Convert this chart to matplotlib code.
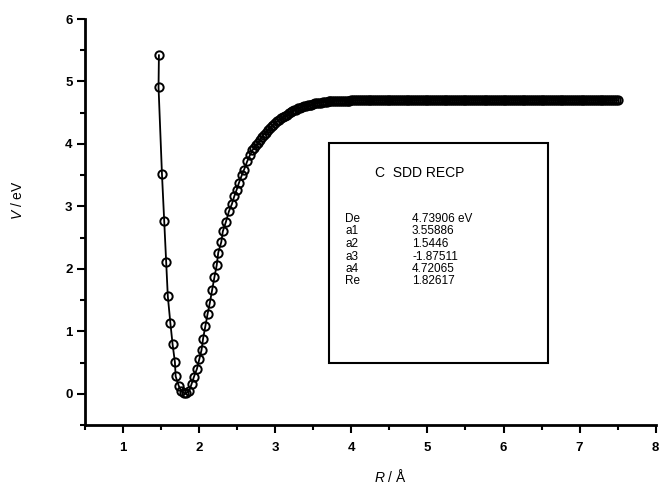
import matplotlib
matplotlib.use("Agg")
import matplotlib.pyplot as plt
from matplotlib.patches import Rectangle
from matplotlib.ticker import MultipleLocator

plt.rcParams['font.family'] = ['Liberation Sans', 'DejaVu Sans']
plt.rcParams['mathtext.fontset'] = 'custom'
plt.rcParams['mathtext.it'] = 'Liberation Sans:italic'

# potential curve points (R in Angstrom, V in eV)
# repulsive wall, well and lower part of the rise
r_well = [1.47, 1.465, 1.51, 1.54, 1.565, 1.587, 1.62, 1.65, 1.68, 1.69,
          1.73, 1.76, 1.80, 1.83, 1.87, 1.90, 1.93, 1.97, 2.00, 2.03,
          2.05, 2.08, 2.11, 2.14, 2.17, 2.20, 2.23, 2.25, 2.29, 2.31,
          2.35, 2.39, 2.43, 2.46, 2.49, 2.52, 2.56, 2.59, 2.63, 2.67]
v_well = [5.42, 4.91, 3.52, 2.76, 2.11, 1.56, 1.14, 0.79, 0.51, 0.28,
          0.13, 0.05, 0.01, 0.01, 0.05, 0.16, 0.27, 0.40, 0.55, 0.70,
          0.88, 1.08, 1.28, 1.46, 1.67, 1.87, 2.06, 2.26, 2.43, 2.60,
          2.75, 2.92, 3.04, 3.16, 3.26, 3.37, 3.50, 3.59, 3.72, 3.83]

# upper bend (dense points)
r_bend = [2.700, 2.725, 2.750, 2.775, 2.800, 2.825, 2.850, 2.875, 2.900,
          2.925, 2.950, 2.975, 3.000, 3.025, 3.050, 3.075, 3.100, 3.125,
          3.150, 3.175, 3.200, 3.225, 3.250, 3.275, 3.300, 3.325, 3.350,
          3.375, 3.400, 3.425, 3.450, 3.475, 3.500, 3.525, 3.550, 3.575,
          3.600, 3.625, 3.650, 3.675, 3.700, 3.725, 3.750, 3.775, 3.800]
v_bend = [3.90, 3.94, 3.98, 4.02, 4.07, 4.11, 4.15, 4.18, 4.22,
          4.25, 4.28, 4.31, 4.34, 4.36, 4.39, 4.41, 4.43, 4.45,
          4.47, 4.49, 4.51, 4.52, 4.54, 4.55, 4.57, 4.58, 4.59,
          4.60, 4.61, 4.62, 4.63, 4.63, 4.64, 4.65, 4.65, 4.66,
          4.66, 4.67, 4.67, 4.67, 4.68, 4.68, 4.68, 4.69, 4.69]

# dissociation plateau (dense points)
r_flat = [3.825, 3.850, 3.875, 3.900, 3.925, 3.950, 3.975, 4.000,
          4.025, 4.050, 4.075, 4.100, 4.125, 4.150, 4.175, 4.200,
          4.225, 4.250, 4.275, 4.300, 4.325, 4.350, 4.375, 4.400,
          4.425, 4.450, 4.475, 4.500, 4.525, 4.550, 4.575, 4.600,
          4.625, 4.650, 4.675, 4.700, 4.725, 4.750, 4.775, 4.800,
          4.825, 4.850, 4.875, 4.900, 4.925, 4.950, 4.975, 5.000,
          5.025, 5.050, 5.075, 5.100, 5.125, 5.150, 5.175, 5.200,
          5.225, 5.250, 5.275, 5.300, 5.325, 5.350, 5.375, 5.400,
          5.425, 5.450, 5.475, 5.500, 5.525, 5.550, 5.575, 5.600,
          5.625, 5.650, 5.675, 5.700, 5.725, 5.750, 5.775, 5.800,
          5.825, 5.850, 5.875, 5.900, 5.925, 5.950, 5.975, 6.000,
          6.025, 6.050, 6.075, 6.100, 6.125, 6.150, 6.175, 6.200,
          6.225, 6.250, 6.275, 6.300, 6.325, 6.350, 6.375, 6.400,
          6.425, 6.450, 6.475, 6.500, 6.525, 6.550, 6.575, 6.600,
          6.625, 6.650, 6.675, 6.700, 6.725, 6.750, 6.775, 6.800,
          6.825, 6.850, 6.875, 6.900, 6.925, 6.950, 6.975, 7.000,
          7.025, 7.050, 7.075, 7.100, 7.125, 7.150, 7.175, 7.200,
          7.225, 7.250, 7.275, 7.300, 7.325, 7.350, 7.375, 7.400,
          7.425, 7.450, 7.475, 7.500]
v_flat = [4.69, 4.69, 4.69, 4.69, 4.69, 4.69, 4.69, 4.70,
          4.70, 4.70, 4.70, 4.70, 4.70, 4.70, 4.70, 4.70,
          4.70, 4.70, 4.70, 4.70, 4.70, 4.70, 4.70, 4.70,
          4.70, 4.70, 4.70, 4.70, 4.70, 4.70, 4.70, 4.70,
          4.70, 4.70, 4.70, 4.70, 4.70, 4.70, 4.70, 4.70,
          4.70, 4.70, 4.70, 4.70, 4.70, 4.70, 4.70, 4.70,
          4.70, 4.70, 4.70, 4.70, 4.70, 4.70, 4.70, 4.70,
          4.70, 4.70, 4.70, 4.70, 4.70, 4.70, 4.70, 4.70,
          4.70, 4.70, 4.70, 4.70, 4.70, 4.70, 4.70, 4.70,
          4.70, 4.70, 4.70, 4.70, 4.70, 4.70, 4.70, 4.70,
          4.70, 4.70, 4.70, 4.70, 4.70, 4.70, 4.70, 4.70,
          4.70, 4.70, 4.70, 4.70, 4.70, 4.70, 4.70, 4.70,
          4.70, 4.70, 4.70, 4.70, 4.70, 4.70, 4.70, 4.70,
          4.70, 4.70, 4.70, 4.70, 4.70, 4.70, 4.70, 4.70,
          4.70, 4.70, 4.70, 4.70, 4.70, 4.70, 4.70, 4.70,
          4.70, 4.70, 4.70, 4.70, 4.70, 4.70, 4.70, 4.70,
          4.70, 4.70, 4.70, 4.70, 4.70, 4.70, 4.70, 4.70,
          4.70, 4.70, 4.70, 4.70, 4.70, 4.70, 4.70, 4.70,
          4.70, 4.70, 4.70, 4.70]

box_title = "C  SDD RECP"
param_names = ["De", "a1", "a2", "a3", "a4", "Re"]
param_values = ["4.73906 eV", "3.55886", "1.5446", "-1.87511", "4.72065", "1.82617"]

x_ticks = [1, 2, 3, 4, 5, 6, 7, 8]
y_ticks = [0, 1, 2, 3, 4, 5, 6]

r_vals = r_well + r_bend + r_flat
v_vals = v_well + v_bend + v_flat

fig = plt.figure(figsize=(6.65, 4.88), dpi=100)
ax = fig.add_axes([0.128, 0.129, 0.858, 0.832])

ax.plot(r_vals, v_vals, '-', color='black', lw=1.3, zorder=2)
ax.plot(r_vals, v_vals, 'o', mfc='none', mec='black', ms=6, mew=1.4, zorder=3)

ax.set_xlim(0.5, 8)
ax.set_ylim(-0.5, 6)
ax.set_xticks(x_ticks)
ax.set_yticks(y_ticks)
ax.xaxis.set_minor_locator(MultipleLocator(0.5))
ax.yaxis.set_minor_locator(MultipleLocator(0.5))

for side in ['top', 'right']:
    ax.spines[side].set_visible(False)
for side in ['left', 'bottom']:
    ax.spines[side].set_linewidth(2)

ax.tick_params(which='major', direction='out', length=6, width=1.5)
ax.tick_params(which='minor', direction='out', length=3.5, width=1.5)
ax.tick_params(axis='x', pad=6)
ax.tick_params(axis='y', pad=3)
for lab in ax.get_xticklabels() + ax.get_yticklabels():
    lab.set_fontweight('bold')
    lab.set_fontsize(9.5)

# parameter box
ax.add_patch(Rectangle((3.71, 0.50), 2.88, 3.51, fill=False, ec='black', lw=1.5, zorder=4))
fig.text(375 / 665, 1 - 173 / 488, box_title, fontsize=10, va='center', ha='left')
row_y = [219, 231.5, 244, 256.5, 269, 281.5]
for name, val, py in zip(param_names, param_values, row_y):
    fig.text(345 / 665, 1 - py / 488, name, fontsize=8.5, va='center', ha='left')
    fig.text(412 / 665, 1 - py / 488, val, fontsize=8.5, va='center', ha='left')

fig.text(18 / 665, 1 - 200 / 488, "$V$ / eV", rotation=90, fontsize=10, va='center', ha='center')
fig.text(390 / 665, 1 - 476 / 488, "$R$ / Å", fontsize=10, va='center', ha='center')

plt.savefig("out.png", dpi=100)
